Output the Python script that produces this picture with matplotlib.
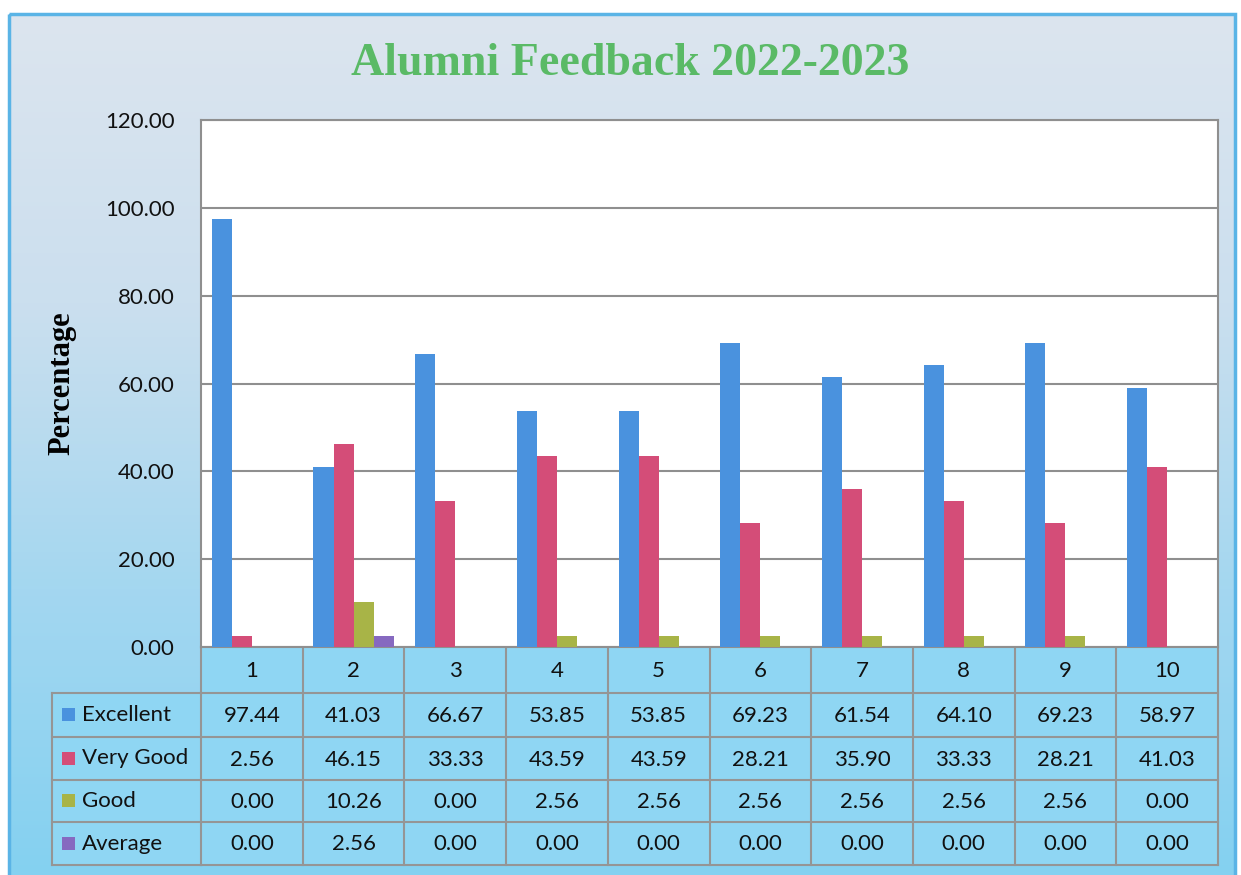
import numpy as np
import matplotlib.pyplot as plt
from matplotlib.patches import Rectangle
from matplotlib.colors import LinearSegmentedColormap
import matplotlib.transforms as mtransforms

categories = ['1', '2', '3', '4', '5', '6', '7', '8', '9', '10']
series_names = ['Excellent', 'Very Good', 'Good', 'Average']
excellent = [97.44, 41.03, 66.67, 53.85, 53.85, 69.23, 61.54, 64.10, 69.23, 58.97]
very_good = [2.56, 46.15, 33.33, 43.59, 43.59, 28.21, 35.90, 33.33, 28.21, 41.03]
good = [0.00, 10.26, 0.00, 2.56, 2.56, 2.56, 2.56, 2.56, 2.56, 0.00]
average = [0.00, 2.56, 0.00, 0.00, 0.00, 0.00, 0.00, 0.00, 0.00, 0.00]
colors = ['#4a92de', '#d44d78', '#a8b447', '#8669c0']

W, H = 1241, 875
fig = plt.figure(figsize=(W / 100, H / 100), dpi=100)
fig.patch.set_facecolor('white')

# background layer in pixel coords (y down)
bg = fig.add_axes([0, 0, 1, 1], zorder=0)
bg.set_xlim(0, W)
bg.set_ylim(H, 0)
bg.axis('off')
cmap = LinearSegmentedColormap.from_list('bgc', ['#dce5ee', '#cbdfee', '#a4d7f0', '#84d1f1'])
grad = np.linspace(0, 1, 256).reshape(-1, 1)
bg.imshow(grad, cmap=cmap, aspect='auto', extent=(9, W - 6, H, 14), zorder=0)
bg.add_patch(Rectangle((9, 14), W - 15, H - 12, fill=False, ec='#5ab4e6', lw=2.5, zorder=1))

bg.text(630, 64, 'Alumni Feedback 2022-2023', ha='center', va='center',
        fontsize=33, fontweight='bold', family='Liberation Serif', color='#5aba66')
bg.text(62, 383, 'Percentage', rotation=90, ha='center', va='center',
        fontsize=22, fontweight='bold', family='Liberation Serif', color='black')

# main chart
ax = fig.add_axes([201 / W, (H - 647) / H, (1218 - 201) / W, (647 - 120) / H], zorder=1)
ax.set_facecolor('white')
x = np.arange(len(categories))
w = 0.197
data = [excellent, very_good, good, average]
for i, (vals, c) in enumerate(zip(data, colors)):
    ax.bar(x + (i - 1.5) * w, vals, width=w, color=c, zorder=3)
ax.set_xlim(-0.5, len(categories) - 0.5)
ax.set_ylim(0, 120)
ax.set_yticks(np.arange(0, 121, 20))
ax.set_yticklabels(['%.2f' % v for v in np.arange(0, 121, 20)], family='Lato', fontsize=16,
                   color='#111111')
ax.tick_params(axis='y', length=0, pad=19)
ax.set_xticks([])
ax.grid(axis='y', color='#8f8f8f', lw=1.5, zorder=0)
for s in ax.spines.values():
    s.set_color('#8f8f8f')
    s.set_linewidth(1.5)

# data table under the chart, columns follow the category scale
tr = mtransforms.blended_transform_factory(ax.transData, bg.transData)
cell = '#8fd6f3'
line = '#959595'
row_edges = [647, 693, 737, 780, 822, 865]
n = len(categories)
bg.add_patch(Rectangle((-0.5, row_edges[0]), n, row_edges[-1] - row_edges[0],
                       transform=tr, fc=cell, ec='none', zorder=2))
bg.add_patch(Rectangle((52, row_edges[1]), 201 - 52, row_edges[-1] - row_edges[1],
                       fc=cell, ec='none', zorder=2))
for ye in row_edges[1:]:
    bg.plot([52, 201], [ye, ye], color=line, lw=1.5, zorder=3)
    bg.plot([-0.5, n - 0.5], [ye, ye], color=line, lw=1.5, zorder=3, transform=tr)
bg.plot([52, 52], [row_edges[1], row_edges[-1]], color=line, lw=1.5, zorder=3)
for k in range(n + 1):
    bg.plot([k - 0.5, k - 0.5], [row_edges[0], row_edges[-1]], color=line, lw=1.5,
            zorder=3, transform=tr)

for k, cat in enumerate(categories):
    bg.text(k, (row_edges[0] + row_edges[1]) / 2 + 1, cat, transform=tr, ha='center',
            va='center', family='Lato', fontsize=16, color='#111111', zorder=4)
for r, (name, vals, c) in enumerate(zip(series_names, data, colors)):
    yc = (row_edges[r + 1] + row_edges[r + 2]) / 2
    bg.add_patch(Rectangle((62, yc - 7), 13, 13, fc=c, ec='none', zorder=4))
    bg.text(82, yc, name, ha='left', va='center', family='Lato', fontsize=16,
            color='#111111', zorder=4)
    for k, v in enumerate(vals):
        bg.text(k, yc + 1, '%.2f' % v, transform=tr, ha='center', va='center',
                family='Lato', fontsize=16, color='#111111', zorder=4)

plt.savefig('out.png', dpi=100)
